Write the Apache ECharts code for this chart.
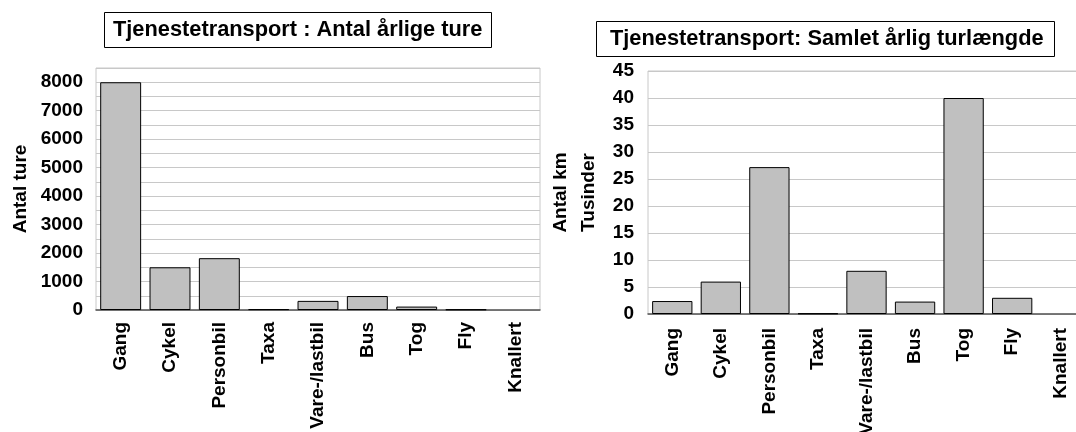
<!DOCTYPE html>
<html>
<head>
<meta charset="utf-8">
<script src="https://cdn.jsdelivr.net/npm/echarts@6/dist/echarts.min.js"></script>
<style>
html,body{margin:0;padding:0;background:#fff;overflow:hidden;}
#c{width:1076px;height:432px;}
</style>
</head>
<body>
<div id="c"></div>
<script>
const categories = ['Gang','Cykel','Personbil','Taxa','Vare-/lastbil','Bus','Tog','Fly','Knallert'];
const tripsPerYear = [8000,1500,1820,30,320,490,120,20,0];
const kmThousands = [2.4,6.0,27.2,0.1,8.0,2.3,40.0,3.0,0];
const leftTickLabels = [0,1000,2000,3000,4000,5000,6000,7000,8000];
const rightTickLabels = [0,5,10,15,20,25,30,35,40,45];
const titleLeft = 'Tjenestetransport : Antal årlige ture';
const titleRight = 'Tjenestetransport: Samlet årlig turlængde';
const yNameLeft = 'Antal ture';
const yNameRight = 'Antal km\nTusinder';

const FONT = '"Liberation Sans", Arial, sans-serif';
const chart = echarts.init(document.getElementById('c'), null, {renderer:'canvas'});

const labelStyle = {fontFamily: FONT, fontWeight: 'bold', fontSize: 19, color: '#000'};
const barStyle = {color: '#c0c0c0', borderColor: '#000', borderWidth: 1};
const toBars = arr => arr.map(v => v === 0 ? {value: v, itemStyle: {borderWidth: 0}} : v);

chart.setOption({
  animation: false,
  backgroundColor: '#fff',
  title: [
    {text: titleLeft, left: 104, top: 12, padding: [7, 9, 7, 9], borderColor: '#000', borderWidth: 1,
     textStyle: {fontFamily: FONT, fontWeight: 'bold', fontSize: 21.8, color: '#000'}},
    {text: titleRight, left: 596, top: 21, padding: [7, 11, 7, 14], borderColor: '#000', borderWidth: 1,
     textStyle: {fontFamily: FONT, fontWeight: 'bold', fontSize: 21.8, color: '#000'}}
  ],
  grid: [
    {left: 96, right: 536, top: 68, bottom: 122, outerBoundsMode: 'none', containLabel: false,
     show: true, borderColor: '#c8c8c8', borderWidth: 1, backgroundColor: 'transparent'},
    {left: 648, right: -9, top: 71, bottom: 118, outerBoundsMode: 'none', containLabel: false,
     show: true, borderColor: '#c8c8c8', borderWidth: 1, backgroundColor: 'transparent'}
  ],
  xAxis: [
    {type: 'category', gridIndex: 0, data: categories,
     axisLine: {lineStyle: {color: '#555', width: 1.5}}, axisTick: {show: false},
     axisLabel: Object.assign({rotate: 90, margin: 12, interval: 0}, labelStyle)},
    {type: 'category', gridIndex: 1, data: categories,
     axisLine: {lineStyle: {color: '#555', width: 1.5}}, axisTick: {show: false},
     axisLabel: Object.assign({rotate: 90, margin: 14, interval: 0}, labelStyle)}
  ],
  yAxis: [
    {type: 'value', gridIndex: 0, min: 0, max: 8500, interval: 500,
     name: yNameLeft, nameLocation: 'middle', nameGap: 66, nameRotate: 90,
     nameTextStyle: {fontFamily: FONT, fontWeight: 'bold', fontSize: 19, color: '#000'},
     axisLine: {show: false}, axisTick: {show: false},
     splitLine: {lineStyle: {color: '#c8c8c8', width: 1}},
     axisLabel: Object.assign({margin: 13, showMaxLabel: false,
       formatter: v => leftTickLabels.indexOf(v) >= 0 ? String(v) : ''}, labelStyle)},
    {type: 'value', gridIndex: 1, min: 0, max: 45, interval: 5,
     name: yNameRight, nameLocation: 'middle', nameGap: 45, nameRotate: 90,
     nameTextStyle: {fontFamily: FONT, fontWeight: 'bold', fontSize: 19, color: '#000', lineHeight: 28},
     axisLine: {show: false}, axisTick: {show: false},
     splitLine: {lineStyle: {color: '#c8c8c8', width: 1}},
     axisLabel: Object.assign({margin: 14,
       formatter: v => rightTickLabels.indexOf(v) >= 0 ? String(v) : ''}, labelStyle)}
  ],
  series: [
    {type: 'bar', xAxisIndex: 0, yAxisIndex: 0, data: toBars(tripsPerYear), barCategoryGap: '17%', itemStyle: barStyle},
    {type: 'bar', xAxisIndex: 1, yAxisIndex: 1, data: toBars(kmThousands), barCategoryGap: '17%', itemStyle: barStyle}
  ]
});
</script>
</body>
</html>
